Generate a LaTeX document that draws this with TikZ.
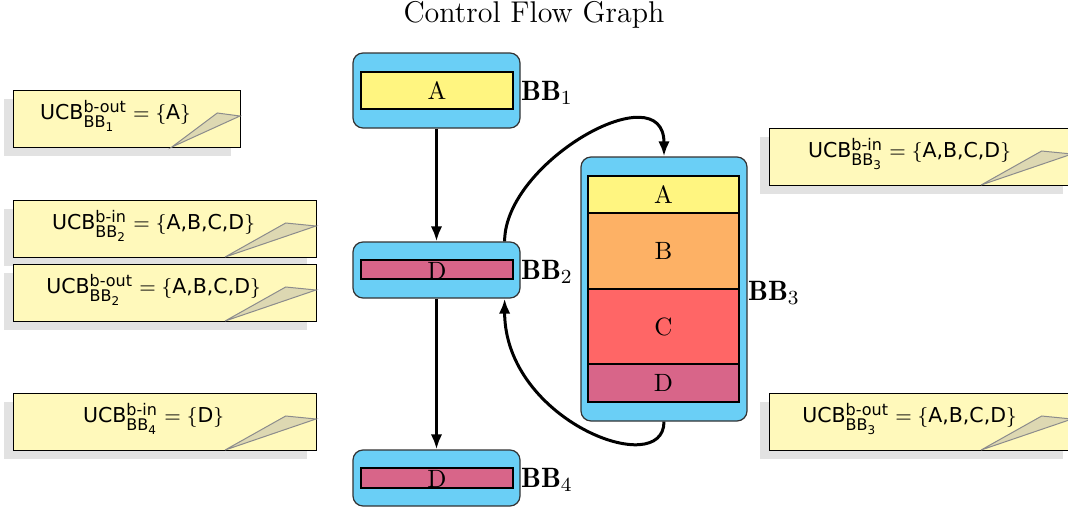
\documentclass[tikz,border=0pt]{standalone}
\usepackage{amsmath}
\usepackage{fontspec}
\newfontfamily\notefont{DejaVu Sans}
\DeclareMathSizes{8.2}{8.2}{6.4}{4.8}
\usetikzlibrary{arrows.meta,calc}
\definecolor{bbblue}{RGB}{106,207,246}
\definecolor{instA}{RGB}{255,245,128}
\definecolor{instB}{RGB}{253,177,101}
\definecolor{instC}{RGB}{255,102,102}
\definecolor{instD}{RGB}{216,101,137}
\definecolor{noteyellow}{RGB}{255,249,187}
\definecolor{notefoldc}{RGB}{221,216,178}
\definecolor{noteshadowc}{RGB}{226,226,226}
\tikzset{
  outerbox/.style={draw=black!80, fill=bbblue, rounded corners=4pt, line width=0.5pt, inner sep=0pt, minimum width=66.8pt},
  innerbox/.style={draw=black, line width=0.5pt, inner sep=0pt, minimum width=60.8pt},
  letter/.style={inner sep=0pt, font=\fontsize{10}{12}\selectfont},
  bblabel/.style={anchor=base west, inner sep=0pt, font=\fontsize{11.2}{13}\selectfont},
  flow/.style={line width=1.2pt, -{Latex[length=6pt,width=4.6pt]}},
  notebody/.style={draw=black, line width=0.4pt, fill=noteyellow},
  noteshadow/.style={fill=noteshadowc},
  notefold/.style={draw=black!45, line width=0.4pt, fill=notefoldc},
  notetext/.style={anchor=base, inner sep=0pt, font=\notefont\fontsize{8.2}{10}\selectfont},
  pics/ucbnote/.style n args={2}{code={
    \fill[noteshadow] (-9,9) rectangle (#1-9,66);
    \draw[notebody] (0,0) rectangle (#1,57);
    \draw[notefold] (0.70*#1,57) -- (0.90*#1,23) -- (#1,26) -- cycle;
    \node[notetext] (-t) at (0.5*#1-11,29.5) {#2};
  }}
}
\begin{document}
\begin{tikzpicture}[x=0.4pt,y=-0.4pt]
\useasboundingbox (0,0) rectangle (1068,508);

\node[font=\large, inner sep=0pt] (title) at (534,15) {Control Flow Graph};

% BB1
\node[outerbox, minimum height=30pt] (bb1) at (436.5,90.5) {};
\node[innerbox, fill=instA, minimum height=14.8pt] (bb1a) at (437,90.5) {};
\node[letter] (bb1at) at (bb1a.center) {A};
\node[bblabel] (l1) at ([yshift=-4pt]bb1.east) {$\mathbf{BB}_1$};

% BB2
\node[outerbox, minimum height=22.4pt] (bb2) at (436.5,270) {};
\node[innerbox, fill=instD, minimum height=7.6pt] (bb2d) at (437,269.5) {};
\node[letter] (bb2dt) at ([yshift=-0.5pt]bb2d.center) {D};
\node[bblabel] (l2) at ([yshift=-3.6pt]bb2.east) {$\mathbf{BB}_2$};

% BB4
\node[outerbox, minimum height=22.4pt] (bb4) at (436.5,478) {};
\node[innerbox, fill=instD, minimum height=8pt] (bb4d) at (437,478) {};
\node[letter] (bb4dt) at ([yshift=-0.5pt]bb4d.center) {D};
\node[bblabel] (l4) at ([yshift=-3.6pt]bb4.east) {$\mathbf{BB}_4$};

% BB3
\node[outerbox, minimum width=66.4pt, minimum height=105.6pt] (bb3) at (664,289) {};
\node[innerbox, fill=instA, minimum width=60.4pt, minimum height=14.8pt] (bb3a) at (663.5,194.5) {};
\node[innerbox, fill=instB, minimum width=60.4pt, minimum height=30.4pt] (bb3b) at (663.5,251) {};
\node[innerbox, fill=instC, minimum width=60.4pt, minimum height=30pt] (bb3c) at (663.5,326.5) {};
\node[innerbox, fill=instD, minimum width=60.4pt, minimum height=15.2pt] (bb3d) at (663.5,383) {};
\node[letter] (bb3at) at (bb3a.center) {A};
\node[letter] (bb3bt) at (bb3b.center) {B};
\node[letter] (bb3ct) at (bb3c.center) {C};
\node[letter] (bb3dt) at (bb3d.center) {D};
\node[bblabel] (l3) at ([yshift=-4.4pt]bb3.east) {$\mathbf{BB}_3$};

% edges
\draw[flow] (bb1) -- (bb2);
\draw[flow] (bb2) -- (bb4);
\coordinate (c2top) at ($(bb2.north east)+(-16,0)$);
\coordinate (c2bot) at ($(bb2.south east)+(-16,0)$);
\draw[flow] (c2top) .. controls +(0,-80) and +(0,-84) .. (bb3.north);
\draw[flow] (bb3.south) .. controls +(0,59) and +(0,122) .. (c2bot);

% notes
\pic (n1) at (13,90) {ucbnote={227}{UCB$^{\text{b-out}}_{\text{BB}_{\text{1}}} = \{\text{A}\}$}};
\pic (n2) at (13,200) {ucbnote={303}{UCB$^{\text{b-in}}_{\text{BB}_{\text{2}}} = \{\text{A,B,C,D}\}$}};
\pic (n3) at (13,264) {ucbnote={303}{UCB$^{\text{b-out}}_{\text{BB}_{\text{2}}} = \{\text{A,B,C,D}\}$}};
\pic (n4) at (13,393) {ucbnote={303}{UCB$^{\text{b-in}}_{\text{BB}_{\text{4}}} = \{\text{D}\}$}};
\pic (n5) at (769,128) {ucbnote={303}{UCB$^{\text{b-in}}_{\text{BB}_{\text{3}}} = \{\text{A,B,C,D}\}$}};
\pic (n6) at (769,393) {ucbnote={303}{UCB$^{\text{b-out}}_{\text{BB}_{\text{3}}} = \{\text{A,B,C,D}\}$}};
\end{tikzpicture}
\end{document}
